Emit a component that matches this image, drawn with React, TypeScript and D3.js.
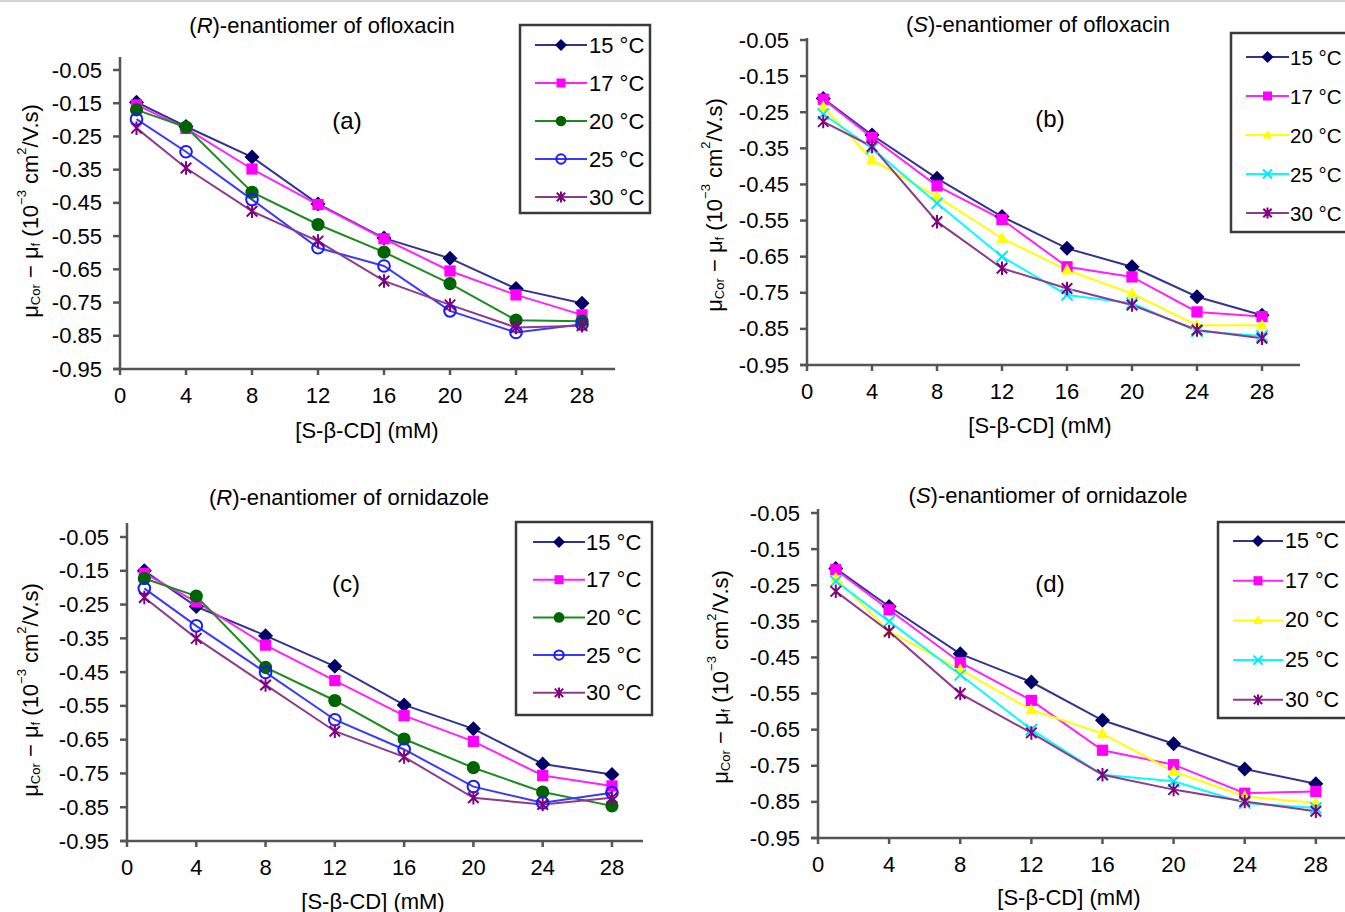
import { useEffect, useRef } from "react";
import * as d3 from "d3";

// [S-β-CD] concentrations (mM)
const xValues = [1, 4, 8, 12, 16, 20, 24, 28];
const xTicks = [0, 4, 8, 12, 16, 20, 24, 28];
const yTicks = [-0.05, -0.15, -0.25, -0.35, -0.45, -0.55, -0.65, -0.75, -0.85, -0.95];
const temperatures = ["15 °C", "17 °C", "20 °C", "25 °C", "30 °C"];

// rows: 15, 17, 20, 25, 30 °C
const rOfloxacin = [
  [-0.147, -0.22, -0.312, -0.453, -0.556, -0.617, -0.708, -0.752],
  [-0.155, -0.226, -0.348, -0.455, -0.558, -0.655, -0.727, -0.787],
  [-0.17, -0.222, -0.418, -0.515, -0.598, -0.693, -0.803, -0.806],
  [-0.198, -0.296, -0.44, -0.585, -0.64, -0.775, -0.84, -0.815],
  [-0.225, -0.345, -0.475, -0.565, -0.685, -0.757, -0.825, -0.82],
];
const sOfloxacin = [
  [-0.212, -0.313, -0.433, -0.539, -0.627, -0.678, -0.761, -0.812],
  [-0.214, -0.32, -0.454, -0.547, -0.678, -0.706, -0.803, -0.816],
  [-0.235, -0.382, -0.484, -0.599, -0.687, -0.752, -0.84, -0.84],
  [-0.255, -0.35, -0.502, -0.65, -0.756, -0.779, -0.856, -0.87],
  [-0.276, -0.345, -0.553, -0.682, -0.738, -0.784, -0.853, -0.876],
];
const rOrnidazole = [
  [-0.15, -0.256, -0.342, -0.433, -0.547, -0.618, -0.722, -0.753],
  [-0.158, -0.242, -0.37, -0.475, -0.579, -0.655, -0.756, -0.787],
  [-0.173, -0.225, -0.436, -0.534, -0.648, -0.733, -0.805, -0.846],
  [-0.202, -0.313, -0.451, -0.591, -0.679, -0.789, -0.837, -0.807],
  [-0.229, -0.35, -0.488, -0.625, -0.701, -0.822, -0.842, -0.822],
];
const sOrnidazole = [
  [-0.204, -0.309, -0.44, -0.518, -0.624, -0.689, -0.759, -0.8],
  [-0.207, -0.318, -0.464, -0.569, -0.707, -0.747, -0.826, -0.821],
  [-0.23, -0.378, -0.484, -0.595, -0.661, -0.766, -0.835, -0.853],
  [-0.239, -0.35, -0.498, -0.65, -0.775, -0.793, -0.853, -0.867],
  [-0.267, -0.378, -0.55, -0.659, -0.775, -0.816, -0.849, -0.876],
];

type Style = { line: string; marker: string; shape: string };

const stylesGreen: Style[] = [
  { line: "#34348f", marker: "#000066", shape: "diamond" },
  { line: "#ff22ff", marker: "#ff00ff", shape: "square" },
  { line: "#1f8a1f", marker: "#006400", shape: "circle" },
  { line: "#3a3aff", marker: "#1a1aff", shape: "open" },
  { line: "#8e3a8e", marker: "#800080", shape: "asterisk" },
];
const stylesYellow: Style[] = [
  { line: "#34348f", marker: "#000066", shape: "diamond" },
  { line: "#ff22ff", marker: "#ff00ff", shape: "square" },
  { line: "#ffff00", marker: "#ffff00", shape: "triangle" },
  { line: "#00ffff", marker: "#00e8ff", shape: "cross" },
  { line: "#8e3a8e", marker: "#800080", shape: "asterisk" },
];

const panels = [
  {
    data: rOfloxacin, styles: stylesGreen, en: "R", drug: "ofloxacin", letter: "(a)",
    left: 120, unit: 16.5, axisEnd: 615, yTopPx: 70, yBottomPx: 369, axisTop: 57,
    titleX: 322, titleY: 25, letterX: 347, letterY: 120, xLabelX: 367, xLabelY: 430, yLabelX: 30, yLabelY: 211,
    legend: { x: 520, y: 25, w: 130, h: 188, first: 45, step: 38, x1: 535, x2: 587, tx: 589, fs: 22 },
  },
  {
    data: sOfloxacin, styles: stylesYellow, en: "S", drug: "ofloxacin", letter: "(b)",
    left: 807, unit: 16.25, axisEnd: 1300, yTopPx: 40, yBottomPx: 365, axisTop: 38,
    titleX: 1038, titleY: 24, letterX: 1050, letterY: 118, xLabelX: 1040, xLabelY: 425, yLabelX: 714, yLabelY: 205,
    legend: { x: 1231, y: 33, w: 130, h: 199, first: 57, step: 39, x1: 1246, x2: 1289, tx: 1290, fs: 20.5 },
  },
  {
    data: rOrnidazole, styles: stylesGreen, en: "R", drug: "ornidazole", letter: "(c)",
    left: 127, unit: 17.32, axisEnd: 643, yTopPx: 537, yBottomPx: 841, axisTop: 523,
    titleX: 349, titleY: 497, letterX: 346, letterY: 583, xLabelX: 373, xLabelY: 901, yLabelX: 30, yLabelY: 690,
    legend: { x: 516, y: 522, w: 136, h: 193, first: 542, step: 37.7, x1: 533, x2: 585, tx: 586, fs: 22 },
  },
  {
    data: sOrnidazole, styles: stylesYellow, en: "S", drug: "ornidazole", letter: "(d)",
    left: 818, unit: 17.78, axisEnd: 1345, yTopPx: 513, yBottomPx: 838, axisTop: 509,
    titleX: 1048, titleY: 495, letterX: 1050, letterY: 583, xLabelX: 1069, xLabelY: 897, yLabelX: 720, yLabelY: 677,
    legend: { x: 1218, y: 522, w: 140, h: 196, first: 541, step: 39.7, x1: 1233, x2: 1283, tx: 1285, fs: 21.5 },
  },
];

const FONT = "'Liberation Sans', Arial, Helvetica, sans-serif";

function drawMarker(g: any, style: Style, cx: number, cy: number, s: number) {
  const c = style.marker;
  if (style.shape === "diamond") {
    g.append("path").attr("d", `M${cx},${cy - s}L${cx + s},${cy}L${cx},${cy + s}L${cx - s},${cy}Z`).attr("fill", c);
  } else if (style.shape === "square") {
    const h = s * 0.75;
    g.append("rect").attr("x", cx - h).attr("y", cy - h).attr("width", 2 * h).attr("height", 2 * h).attr("fill", c);
  } else if (style.shape === "circle") {
    g.append("circle").attr("cx", cx).attr("cy", cy).attr("r", s * 0.88).attr("fill", c);
  } else if (style.shape === "open") {
    g.append("circle").attr("cx", cx).attr("cy", cy).attr("r", s * 0.78).attr("fill", "none").attr("stroke", c).attr("stroke-width", 2);
  } else if (style.shape === "triangle") {
    g.append("path").attr("d", `M${cx},${cy - s * 0.85}L${cx + s * 0.8},${cy + s * 0.6}L${cx - s * 0.8},${cy + s * 0.6}Z`).attr("fill", c);
  } else if (style.shape === "cross") {
    const h = s * 0.75;
    g.append("path").attr("d", `M${cx - h},${cy - h}L${cx + h},${cy + h}M${cx - h},${cy + h}L${cx + h},${cy - h}`).attr("stroke", c).attr("stroke-width", 2).attr("fill", "none");
  } else if (style.shape === "asterisk") {
    const h = s * 0.7;
    g.append("path")
      .attr("d", `M${cx - h},${cy - h}L${cx + h},${cy + h}M${cx - h},${cy + h}L${cx + h},${cy - h}M${cx},${cy - s * 0.9}L${cx},${cy + s * 0.9}`)
      .attr("stroke", c).attr("stroke-width", 2).attr("fill", "none");
  }
}

export default function App() {
  const ref = useRef<SVGSVGElement>(null);

  useEffect(() => {
    const svg = d3.select(ref.current);
    svg.selectAll("*").remove();

    svg.append("line").attr("x1", 0).attr("x2", 1345).attr("y1", 1).attr("y2", 1)
      .attr("stroke", "#d4d4d4").attr("stroke-width", 2);

    panels.forEach((p) => {
      const g = svg.append("g").attr("font-family", FONT).attr("fill", "#000");
      const x = d3.scaleLinear().domain([0, 28]).range([p.left, p.left + 28 * p.unit]);
      const y = d3.scaleLinear().domain([-0.95, -0.05]).range([p.yBottomPx, p.yTopPx]);

      // axes
      const axisColor = "#555";
      g.append("line").attr("x1", p.left).attr("x2", p.left).attr("y1", p.axisTop).attr("y2", p.yBottomPx + 1)
        .attr("stroke", axisColor).attr("stroke-width", 2.5);
      g.append("line").attr("x1", p.left - 7).attr("x2", p.axisEnd).attr("y1", p.yBottomPx).attr("y2", p.yBottomPx)
        .attr("stroke", axisColor).attr("stroke-width", 2.5);

      yTicks.forEach((t) => {
        g.append("line").attr("x1", p.left - 7).attr("x2", p.left).attr("y1", y(t)).attr("y2", y(t))
          .attr("stroke", axisColor).attr("stroke-width", 2.5);
        g.append("text").attr("x", p.left - 18).attr("y", y(t)).attr("text-anchor", "end")
          .attr("dominant-baseline", "central").attr("font-size", 22).text(t.toFixed(2));
      });
      xTicks.forEach((t) => {
        g.append("line").attr("x1", x(t)).attr("x2", x(t)).attr("y1", p.yBottomPx).attr("y2", p.yBottomPx + 6)
          .attr("stroke", axisColor).attr("stroke-width", 2.5);
        g.append("text").attr("x", x(t)).attr("y", p.yBottomPx + 26).attr("text-anchor", "middle")
          .attr("dominant-baseline", "central").attr("font-size", 22).text(String(t));
      });

      // title
      const title = g.append("text").attr("x", p.titleX).attr("y", p.titleY).attr("text-anchor", "middle")
        .attr("dominant-baseline", "central").attr("font-size", 22);
      title.append("tspan").text("(");
      title.append("tspan").attr("font-style", "italic").text(p.en);
      title.append("tspan").text(`)-enantiomer of ${p.drug}`);

      g.append("text").attr("x", p.letterX).attr("y", p.letterY).attr("text-anchor", "middle")
        .attr("dominant-baseline", "central").attr("font-size", 24).text(p.letter);

      g.append("text").attr("x", p.xLabelX).attr("y", p.xLabelY).attr("text-anchor", "middle")
        .attr("dominant-baseline", "central").attr("font-size", 22).text("[S-β-CD] (mM)");

      const yl = g.append("text").attr("transform", `translate(${p.yLabelX},${p.yLabelY}) rotate(-90)`)
        .attr("text-anchor", "middle").attr("dominant-baseline", "central").attr("font-size", 22);
      yl.append("tspan").text("μ");
      yl.append("tspan").attr("font-size", 13).attr("dy", 5).text("Cor");
      yl.append("tspan").attr("dy", -5).text(" − μ");
      yl.append("tspan").attr("font-size", 13).attr("dy", 5).text("f");
      yl.append("tspan").attr("dy", -5).text(" (10");
      yl.append("tspan").attr("font-size", 13).attr("dy", -9).text("−3");
      yl.append("tspan").attr("dy", 9).text(" cm");
      yl.append("tspan").attr("font-size", 13).attr("dy", -9).text("2");
      yl.append("tspan").attr("dy", 9).text("/V.s)");

      // series
      const line = d3.line<number>().x((_, i) => x(xValues[i])).y((d) => y(d));
      p.data.forEach((row, si) => {
        const st = p.styles[si];
        g.append("path").attr("d", line(row) as string).attr("fill", "none")
          .attr("stroke", st.line).attr("stroke-width", 2);
      });
      p.data.forEach((row, si) => {
        const st = p.styles[si];
        row.forEach((v, i) => drawMarker(g, st, x(xValues[i]), y(v), 7.5));
      });

      // legend
      const L = p.legend;
      g.append("rect").attr("x", L.x).attr("y", L.y).attr("width", L.w).attr("height", L.h)
        .attr("fill", "#fff").attr("stroke", "#3a3a3a").attr("stroke-width", 2.5);
      temperatures.forEach((t, i) => {
        const st = p.styles[i];
        const cy = L.first + i * L.step;
        g.append("line").attr("x1", L.x1).attr("x2", L.x2).attr("y1", cy).attr("y2", cy)
          .attr("stroke", st.line).attr("stroke-width", 2);
        drawMarker(g, st, (L.x1 + L.x2) / 2, cy, 6);
        g.append("text").attr("x", L.tx).attr("y", cy).attr("dominant-baseline", "central")
          .attr("font-size", L.fs).text(t);
      });
    });
  }, []);

  return (
    <svg
      ref={ref}
      width={1345}
      height={912}
      style={{ position: "absolute", left: 0, top: 0, background: "#fff" }}
    />
  );
}
